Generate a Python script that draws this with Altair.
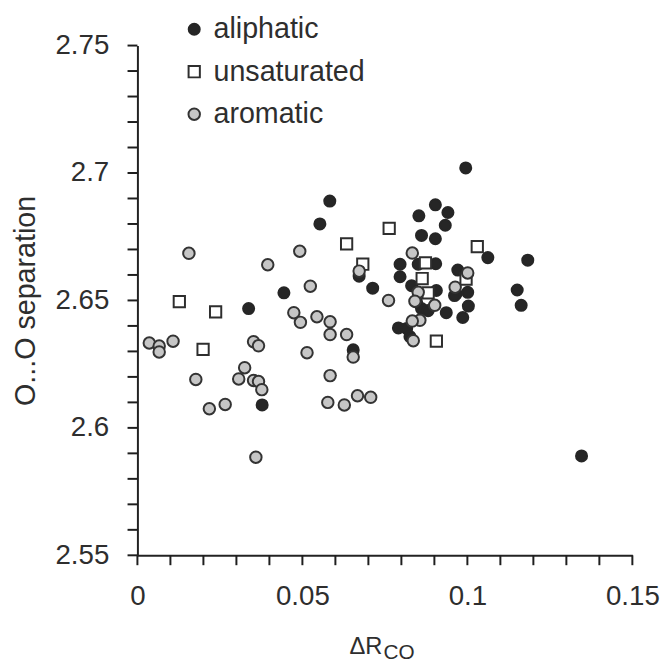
import altair as alt
import pandas as pd

# ---- data ----
ali_x = [0.0995, 0.0583, 0.0553, 0.0444, 0.0337, 0.0378, 0.1346, 0.0903, 0.0941, 0.0853,
         0.0933, 0.0861, 0.0903, 0.1062, 0.1183, 0.0796, 0.0851, 0.0904, 0.0796, 0.0672,
         0.0713, 0.0831, 0.0846, 0.0861, 0.0881, 0.0936, 0.0986, 0.0791, 0.0816, 0.0826,
         0.0971, 0.0966, 0.1001, 0.1003, 0.1151, 0.1163, 0.0906, 0.0961, 0.0654]
ali_y = [2.702, 2.689, 2.680, 2.653, 2.6468, 2.609, 2.589, 2.6875, 2.6845, 2.6832,
         2.6795, 2.6755, 2.6742, 2.6668, 2.6658, 2.6642, 2.6642, 2.6644, 2.6593, 2.6595,
         2.6548, 2.6558, 2.6494, 2.6468, 2.6460, 2.6452, 2.6433, 2.6392, 2.6390, 2.6358,
         2.6619, 2.6526, 2.6532, 2.6478, 2.6541, 2.6481, 2.6539, 2.6519, 2.6306]

uns_x = [0.0127, 0.0237, 0.0199, 0.0634, 0.0763, 0.0683, 0.1030, 0.0873, 0.0863, 0.0881,
         0.0996, 0.0906]
uns_y = [2.6495, 2.6455, 2.6308, 2.6722, 2.6783, 2.6642, 2.6711, 2.6647, 2.6586, 2.6530,
         2.6584, 2.6340]

aro_x = [0.0156, 0.0036, 0.0066, 0.0066, 0.0108, 0.0177, 0.0218, 0.0266, 0.0325, 0.0307,
         0.0352, 0.0367, 0.0352, 0.0367, 0.0377, 0.0359, 0.0395, 0.0492, 0.0524, 0.0474,
         0.0494, 0.0544, 0.0584, 0.0584, 0.0634, 0.0514, 0.0654, 0.0584, 0.0577, 0.0627,
         0.0667, 0.0707, 0.0672, 0.0761, 0.0833, 0.0851, 0.0841, 0.0901, 0.0856, 0.0833,
         0.0836, 0.1001, 0.0963]
aro_y = [2.6685, 2.6333, 2.6321, 2.6298, 2.6340, 2.6190, 2.6075, 2.6092, 2.6236, 2.6192,
         2.6338, 2.6322, 2.6186, 2.6182, 2.6150, 2.5885, 2.6640, 2.6693, 2.6556, 2.6452,
         2.6414, 2.6436, 2.6416, 2.6366, 2.6366, 2.6295, 2.6278, 2.6205, 2.6100, 2.6090,
         2.6126, 2.6120, 2.6615, 2.6500, 2.6686, 2.6532, 2.6497, 2.6481, 2.6422, 2.6419,
         2.6342, 2.6608, 2.6552]

categories = ["aliphatic", "unsaturated", "aromatic"]

x_ticks = [0.0, 0.01, 0.02, 0.03, 0.04, 0.05, 0.06, 0.07, 0.08, 0.09, 0.10,
           0.11, 0.12, 0.13, 0.14, 0.15]
y_ticks = [2.55, 2.56, 2.57, 2.58, 2.59, 2.60, 2.61, 2.62, 2.63, 2.64, 2.65,
           2.66, 2.67, 2.68, 2.69, 2.70, 2.71, 2.72, 2.73, 2.74, 2.75]

df = pd.concat([
    pd.DataFrame({"dr": ali_x, "oo": ali_y, "type": "aliphatic"}),
    pd.DataFrame({"dr": uns_x, "oo": uns_y, "type": "unsaturated"}),
    pd.DataFrame({"dr": aro_x, "oo": aro_y, "type": "aromatic"}),
], ignore_index=True)

FONT = "Liberation Sans"
INK = "#2e2e2e"
TICK = "#1e1e1e"

label_expr = ("abs(datum.value*20 - round(datum.value*20)) < 0.000001 "
              "? format(datum.value, '~g') : ''")

legend = alt.Legend(
    title=None, orient="none", legendX=43, legendY=-31,
    labelFont=FONT, labelFontSize=29, labelColor=INK, labelOffset=5,
    rowPadding=13, symbolStrokeWidth=2, symbolOpacity=1,
)

common = dict(ticks=False, tickSize=0, domainColor="#222222", domainWidth=2,
              domainOpacity=1, grid=False, labelFont=FONT, labelFontSize=28,
              labelColor=INK, labelOverlap=False)

x_axis = alt.Axis(values=x_ticks, labelExpr=label_expr, title=None,
                  labelPadding=28, labelFlush=False, **common)
y_axis = alt.Axis(values=y_ticks, labelExpr=label_expr,
                  title="O...O separation", titleFontSize=29,
                  titleFont=FONT, titleFontWeight="normal", titleColor=INK,
                  titleX=-104, titleY=258, titleBaseline="alphabetic",
                  titleAngle=270, titleAlign="center",
                  labelPadding=29, **common)
x_scale = alt.Scale(domain=[0, 0.15], nice=False, zero=False)
y_scale = alt.Scale(domain=[2.55, 2.75], nice=False, zero=False)

points = alt.Chart(df).mark_point(filled=True, opacity=1, strokeWidth=2).encode(
    x=alt.X("dr:Q", scale=x_scale, axis=x_axis),
    y=alt.Y("oo:Q", scale=y_scale, axis=y_axis),
    shape=alt.Shape("type:N", scale=alt.Scale(domain=categories,
                                              range=["circle", "square", "circle"]),
                    legend=legend),
    fill=alt.Fill("type:N", scale=alt.Scale(domain=categories,
                                            range=["#262626", "#ffffff", "#c6c6c6"]),
                  legend=legend),
    stroke=alt.Stroke("type:N", scale=alt.Scale(domain=categories,
                                                range=["#262626", "#2e2e2e", "#333333"]),
                      legend=legend),
    size=alt.Size("type:N", scale=alt.Scale(domain=categories, range=[125, 135, 90]),
                  legend=legend),
)

# tick marks drawn through the shared scales
x_tick_marks = alt.Chart(pd.DataFrame({"dr": x_ticks})).mark_rule(
    color=TICK, strokeWidth=2
).encode(x=alt.X("dr:Q", scale=x_scale, axis=x_axis),
         y=alt.value(516), y2=alt.value(526))

y_tick_marks = alt.Chart(pd.DataFrame({"oo": y_ticks})).mark_rule(
    color=TICK, strokeWidth=2
).encode(y=alt.Y("oo:Q", scale=y_scale, axis=y_axis),
         x=alt.value(-10), x2=alt.value(0))

title_main = alt.Chart(pd.DataFrame({"t": ["ΔR"]})).mark_text(
    font=FONT, fontSize=24, color=INK, align="right", baseline="alphabetic"
).encode(x=alt.value(248), y=alt.value(616), text="t:N")

title_sub = alt.Chart(pd.DataFrame({"t": ["CO"]})).mark_text(
    font=FONT, fontSize=21, color=INK, align="left", baseline="alphabetic"
).encode(x=alt.value(249), y=alt.value(621), text="t:N")

chart = alt.layer(points, x_tick_marks, y_tick_marks, title_main, title_sub).properties(
    width=501, height=516,
    autosize=alt.AutoSizeParams(type="none"),
    padding={"left": 131, "top": 34, "right": 30, "bottom": 106},
).configure_view(stroke=None)

chart.save("out.html", embed_options={"renderer": "svg", "actions": False})
